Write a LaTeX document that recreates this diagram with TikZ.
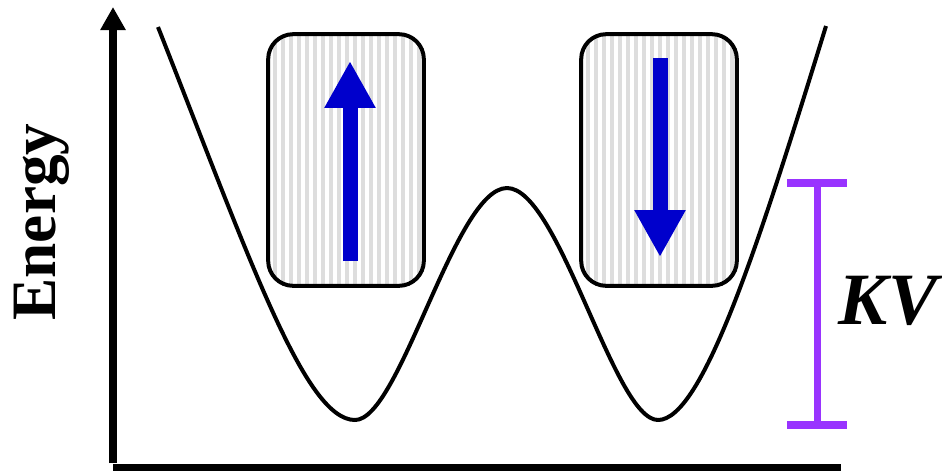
\documentclass[tikz,border=0pt]{standalone}
\usepackage{fontspec}
\setmainfont{Liberation Serif}
\usetikzlibrary{positioning,arrows.meta,calc}
\definecolor{spinblue}{RGB}{0,0,204}
\definecolor{kvpurple}{RGB}{153,51,255}
\definecolor{stripegray}{RGB}{221,221,221}

\begin{document}
\begin{tikzpicture}[
    x=0.02cm, y=-0.02cm,
    axis/.style={line width=0.16cm},
    well/.style={line width=0.08cm, line join=round},
    spinbox/.style={minimum width=3.1cm, minimum height=5.02cm, inner sep=0pt},
    boxline/.style={draw, line width=0.08cm, rounded corners=0.5cm},
    stripe/.style={fill=stripegray},
    spin/.style={spinblue, line width=0.3cm, -{Triangle[length=0.94cm, width=0.96cm]}},
    bar/.style={kvpurple, line width=0.14cm},
    lbl/.style={font=\fontsize{36}{40}\selectfont\bfseries}
  ]
  \useasboundingbox (0,0) rectangle (942,471);

  % Axes
  \coordinate (origin) at (113,463);
  \coordinate (ytip) at (113,7);
  \draw[axis, -{Triangle[length=0.46cm, width=0.48cm]}] (origin) -- (ytip);
  \draw[line width=0.14cm] (113,467.5) -- (841,467.5);
  \node[lbl, rotate=90, anchor=base] (energy) at (55,222) {Energy};

  % Double well
  \draw[well] (158,27) .. controls (250,260) and (305,420) .. (355,420)
    .. controls (400,420) and (455,188) .. (507,188)
    .. controls (559,188) and (614,420) .. (658,420)
    .. controls (703,420) and (760,240) .. (826,26);

  % Spin states
  \node[spinbox] (boxL) at (346,160) {};
  \node[spinbox] (boxR) at (659,160) {};
  \foreach \b in {boxL,boxR}{
    \begin{scope}
      \clip[rounded corners=0.5cm] (\b.south west) rectangle (\b.north east);
      \fill[white] (\b.south west) rectangle (\b.north east);
      \foreach \k in {0,...,19}
        \fill[stripe] ($(\b.south west)+(5+8*\k,0)$) rectangle ++(4,-260);
    \end{scope}
    \draw[boxline] (\b.south west) rectangle (\b.north east);
  }
  \draw[spin] (350,261) -- (350,61);
  \draw[spin] (660,58) -- (660,257);

  % Barrier height
  \coordinate (kvtop) at (817,183);
  \coordinate (kvbot) at (817,425);
  \draw[bar] (kvtop) -- (kvbot);
  \draw[bar, line width=0.16cm] ($(kvtop)+(-30,0)$) -- ++(60,0);
  \draw[bar, line width=0.16cm] ($(kvbot)+(-30,0)$) -- ++(60,0);
  \node[font=\fontsize{42}{46}\selectfont\bfseries\itshape, anchor=base] (kv) at (888,324) {KV};
\end{tikzpicture}
\end{document}
